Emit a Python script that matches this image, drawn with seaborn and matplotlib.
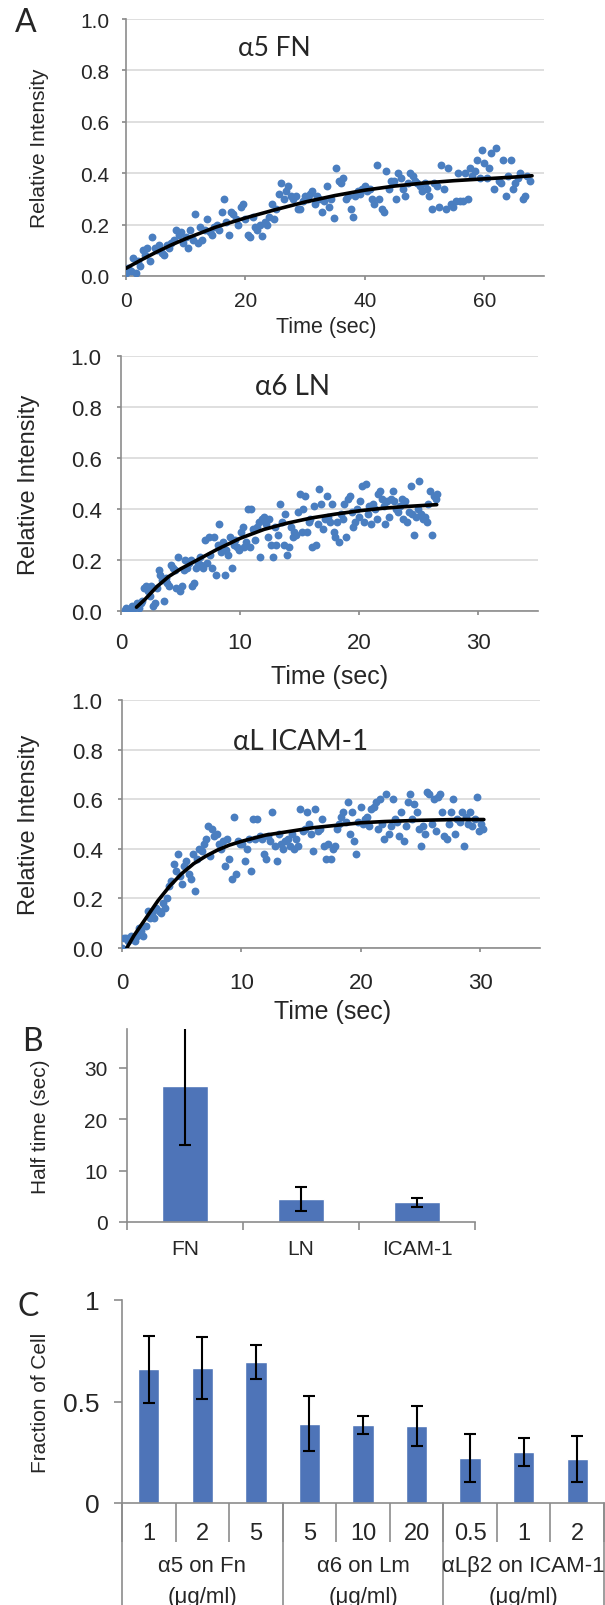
import numpy as np
import pandas as pd
import seaborn as sns
import matplotlib
matplotlib.use("Agg")
import matplotlib.pyplot as plt
from matplotlib.ticker import FixedLocator

# ---------------- data ----------------
# Panel A1: alpha5 on FN
fn_time = [0.0, 0.4, 0.8, 1.2, 1.6, 2.0, 2.4, 2.8, 3.2, 3.6,
           4.0, 4.4, 4.8, 5.2, 5.6, 6.0, 6.4, 6.8, 7.2, 7.6,
           8.0, 8.4, 8.8, 9.2, 9.6, 10.0, 10.4, 10.8, 11.2, 11.6,
           12.0, 12.4, 12.8, 13.2, 13.6, 14.0, 14.4, 14.8, 15.2, 15.6,
           16.0, 16.4, 16.8, 17.2, 17.6, 18.0, 18.4, 18.8, 19.2, 19.6,
           20.0, 20.4, 20.8, 21.2, 21.6, 22.0, 22.4, 22.8, 23.2, 23.6,
           24.0, 24.4, 24.8, 25.2, 25.6, 26.0, 26.4, 26.8, 27.2, 27.6,
           28.0, 28.4, 28.8, 29.2, 29.6, 30.0, 30.4, 30.8, 31.2, 31.6,
           32.0, 32.4, 32.8, 33.2, 33.6, 34.0, 34.4, 34.8, 35.2, 35.6,
           36.0, 36.4, 36.8, 37.2, 37.6, 38.0, 38.4, 38.8, 39.2, 39.6,
           40.0, 40.4, 40.8, 41.2, 41.6, 42.0, 42.4, 42.8, 43.2, 43.6,
           44.0, 44.4, 44.8, 45.2, 45.6, 46.0, 46.4, 46.8, 47.2, 47.6,
           48.0, 48.4, 48.8, 49.2, 49.6, 50.0, 50.4, 50.8, 51.2, 51.6,
           52.0, 52.4, 52.8, 53.2, 53.6, 54.0, 54.4, 54.8, 55.2, 55.6,
           56.0, 56.4, 56.8, 57.2, 57.6, 58.0, 58.4, 58.8, 59.2, 59.6,
           60.0, 60.4, 60.8, 61.2, 61.6, 62.0, 62.4, 62.8, 63.2, 63.6,
           64.0, 64.4, 64.8, 65.2, 65.6, 66.0, 66.4, 66.8, 67.2, 67.6]
fn_int = [0.01, 0.03, 0.02, 0.07, 0.01, 0.06, 0.04, 0.10, 0.08, 0.11,
          0.06, 0.15, 0.11, 0.10, 0.12, 0.09, 0.08, 0.12, 0.11, 0.13,
          0.14, 0.18, 0.16, 0.17, 0.13, 0.15, 0.11, 0.18, 0.14, 0.24,
          0.13, 0.19, 0.14, 0.18, 0.22, 0.17, 0.16, 0.19, 0.20, 0.18,
          0.25, 0.30, 0.21, 0.16, 0.25, 0.24, 0.22, 0.20, 0.27, 0.28,
          0.22, 0.16, 0.15, 0.23, 0.19, 0.18, 0.20, 0.155, 0.21, 0.20,
          0.23, 0.28, 0.22, 0.26, 0.32, 0.36, 0.30, 0.33, 0.35, 0.31,
          0.30, 0.31, 0.26, 0.26, 0.29, 0.31, 0.30, 0.32, 0.33, 0.28,
          0.31, 0.30, 0.25, 0.29, 0.35, 0.27, 0.30, 0.225, 0.42, 0.37,
          0.36, 0.38, 0.30, 0.31, 0.26, 0.23, 0.31, 0.33, 0.32, 0.34,
          0.35, 0.33, 0.34, 0.30, 0.28, 0.43, 0.30, 0.26, 0.25, 0.41,
          0.34, 0.37, 0.37, 0.30, 0.40, 0.38, 0.34, 0.31, 0.36, 0.40,
          0.39, 0.37, 0.36, 0.35, 0.33, 0.36, 0.34, 0.31, 0.26, 0.36,
          0.35, 0.27, 0.43, 0.34, 0.26, 0.42, 0.28, 0.27, 0.29, 0.40,
          0.29, 0.29, 0.40, 0.30, 0.42, 0.39, 0.41, 0.45, 0.38, 0.49,
          0.44, 0.38, 0.42, 0.48, 0.34, 0.50, 0.37, 0.36, 0.45, 0.31,
          0.39, 0.45, 0.34, 0.36, 0.38, 0.40, 0.30, 0.31, 0.39, 0.37]
fn_fit_t = [0, 2.5, 5, 7.5, 10, 15, 20, 25, 30, 35, 40, 45, 50, 55, 60, 65, 68]
fn_fit_v = [0.03, 0.062, 0.092, 0.12, 0.145, 0.19, 0.226, 0.258, 0.288, 0.313,
            0.334, 0.35, 0.362, 0.371, 0.378, 0.385, 0.39]

# Panel A2: alpha6 on LN
ln_time = [0.3, 0.45, 0.6, 0.75, 0.9, 1.05, 1.2, 1.35, 1.5, 1.65,
           1.8, 1.95, 2.1, 2.25, 2.4, 2.55, 2.7, 2.85, 3.0, 3.15,
           3.3, 3.45, 3.6, 3.75, 3.9, 4.05, 4.2, 4.35, 4.5, 4.65,
           4.8, 4.95, 5.1, 5.25, 5.4, 5.55, 5.7, 5.85, 6.0, 6.15,
           6.3, 6.45, 6.6, 6.75, 6.9, 7.05, 7.2, 7.35, 7.5, 7.65,
           7.8, 7.95, 8.1, 8.25, 8.4, 8.55, 8.7, 8.85, 9.0, 9.15,
           9.3, 9.45, 9.6, 9.75, 9.9, 10.05, 10.2, 10.35, 10.5, 10.65,
           10.8, 10.95, 11.1, 11.25, 11.4, 11.55, 11.7, 11.85, 12.0, 12.15,
           12.3, 12.45, 12.6, 12.75, 12.9, 13.05, 13.2, 13.35, 13.5, 13.65,
           13.8, 13.95, 14.1, 14.25, 14.4, 14.55, 14.7, 14.85, 15.0, 15.15,
           15.3, 15.45, 15.6, 15.75, 15.9, 16.05, 16.2, 16.35, 16.5, 16.65,
           16.8, 16.95, 17.1, 17.25, 17.4, 17.55, 17.7, 17.85, 18.0, 18.15,
           18.3, 18.45, 18.6, 18.75, 18.9, 19.05, 19.2, 19.35, 19.5, 19.65,
           19.8, 19.95, 20.1, 20.25, 20.4, 20.55, 20.7, 20.85, 21.0, 21.15,
           21.3, 21.45, 21.6, 21.75, 21.9, 22.05, 22.2, 22.35, 22.5, 22.65,
           22.8, 22.95, 23.1, 23.25, 23.4, 23.55, 23.7, 23.85, 24.0, 24.15,
           24.3, 24.45, 24.6, 24.75, 24.9, 25.05, 25.2, 25.35, 25.5, 25.65,
           25.8, 25.95, 26.1, 26.25, 26.4, 26.5]
ln_int = [0.005, 0.01, 0.0, 0.005, 0.02, 0.01, 0.015, 0.03, 0.01, 0.03,
          0.04, 0.09, 0.10, 0.08, 0.06, 0.10, 0.02, 0.03, 0.09, 0.16,
          0.14, 0.12, 0.04, 0.13, 0.11, 0.10, 0.18, 0.17, 0.16, 0.09,
          0.21, 0.08, 0.10, 0.16, 0.20, 0.17, 0.19, 0.20, 0.10, 0.11,
          0.17, 0.19, 0.21, 0.18, 0.17, 0.28, 0.19, 0.29, 0.22, 0.17,
          0.29, 0.14, 0.26, 0.34, 0.23, 0.27, 0.14, 0.24, 0.22, 0.29,
          0.17, 0.26, 0.28, 0.25, 0.24, 0.31, 0.33, 0.25, 0.27, 0.40,
          0.25, 0.40, 0.32, 0.28, 0.33, 0.35, 0.21, 0.36, 0.37, 0.34,
          0.29, 0.36, 0.26, 0.21, 0.33, 0.26, 0.30, 0.42, 0.35, 0.26,
          0.38, 0.22, 0.25, 0.33, 0.29, 0.31, 0.30, 0.39, 0.46, 0.31,
          0.40, 0.45, 0.31, 0.35, 0.36, 0.25, 0.41, 0.26, 0.34, 0.48,
          0.42, 0.32, 0.36, 0.45, 0.37, 0.35, 0.42, 0.31, 0.29, 0.35,
          0.27, 0.38, 0.36, 0.42, 0.29, 0.44, 0.45, 0.39, 0.33, 0.35,
          0.40, 0.37, 0.43, 0.49, 0.35, 0.50, 0.38, 0.41, 0.34, 0.42,
          0.40, 0.36, 0.46, 0.47, 0.44, 0.41, 0.34, 0.43, 0.37, 0.44,
          0.47, 0.43, 0.40, 0.39, 0.41, 0.44, 0.36, 0.43, 0.35, 0.39,
          0.49, 0.38, 0.30, 0.37, 0.40, 0.51, 0.38, 0.36, 0.37, 0.35,
          0.42, 0.47, 0.30, 0.45, 0.44, 0.46]
ln_fit_t = [1.3, 2.0, 2.5, 3.0, 4.0, 5.0, 6.0, 8.0, 10.0, 12.0, 14.0, 16.0,
            18.0, 20.0, 22.0, 24.0, 26.5]
ln_fit_v = [0.015, 0.045, 0.07, 0.095, 0.135, 0.165, 0.19, 0.24, 0.285, 0.32,
            0.345, 0.365, 0.38, 0.393, 0.403, 0.41, 0.417]

# Panel A3: alphaL on ICAM-1
icam_time = [0.0, 0.18, 0.36, 0.54, 0.72, 0.9, 1.08, 1.26, 1.44, 1.62,
             1.8, 1.98, 2.16, 2.34, 2.52, 2.7, 2.88, 3.06, 3.24, 3.42,
             3.6, 3.78, 3.96, 4.14, 4.32, 4.5, 4.68, 4.86, 5.04, 5.22,
             5.4, 5.58, 5.76, 5.94, 6.12, 6.3, 6.48, 6.66, 6.84, 7.02,
             7.2, 7.38, 7.56, 7.74, 7.92, 8.1, 8.28, 8.46, 8.64, 8.82,
             9.0, 9.18, 9.36, 9.54, 9.72, 9.9, 10.08, 10.26, 10.44, 10.62,
             10.8, 10.98, 11.16, 11.34, 11.52, 11.7, 11.88, 12.06, 12.24, 12.42,
             12.6, 12.78, 12.96, 13.14, 13.32, 13.5, 13.68, 13.86, 14.04, 14.22,
             14.4, 14.58, 14.76, 14.94, 15.12, 15.3, 15.48, 15.66, 15.84, 16.02,
             16.2, 16.38, 16.56, 16.74, 16.92, 17.1, 17.28, 17.46, 17.64, 17.82,
             18.0, 18.18, 18.36, 18.54, 18.72, 18.9, 19.08, 19.26, 19.44, 19.62,
             19.8, 19.98, 20.16, 20.34, 20.52, 20.7, 20.88, 21.06, 21.24, 21.42,
             21.6, 21.78, 21.96, 22.14, 22.32, 22.5, 22.68, 22.86, 23.04, 23.22,
             23.4, 23.58, 23.76, 23.94, 24.12, 24.3, 24.48, 24.66, 24.84, 25.02,
             25.2, 25.38, 25.56, 25.74, 25.92, 26.1, 26.28, 26.46, 26.64, 26.82,
             27.0, 27.18, 27.36, 27.54, 27.72, 27.9, 28.08, 28.26, 28.44, 28.62,
             28.8, 28.98, 29.16, 29.34, 29.52, 29.7, 29.88, 30.06, 30.24]
icam_int = [0.0, 0.04, 0.04, 0.03, 0.05, 0.04, 0.03, 0.05, 0.08, 0.07,
            0.05, 0.09, 0.15, 0.12, 0.14, 0.12, 0.16, 0.15, 0.14, 0.18,
            0.16, 0.20, 0.25, 0.27, 0.34, 0.31, 0.38, 0.29, 0.26, 0.33,
            0.35, 0.30, 0.28, 0.38, 0.23, 0.36, 0.40, 0.39, 0.42, 0.44,
            0.49, 0.37, 0.48, 0.45, 0.46, 0.42, 0.40, 0.43, 0.33, 0.44,
            0.36, 0.28, 0.53, 0.30, 0.43, 0.42, 0.42, 0.35, 0.40, 0.44,
            0.31, 0.52, 0.44, 0.52, 0.45, 0.44, 0.38, 0.36, 0.45, 0.43,
            0.55, 0.41, 0.35, 0.46, 0.42, 0.40, 0.43, 0.44, 0.41, 0.46,
            0.40, 0.44, 0.41, 0.56, 0.47, 0.48, 0.55, 0.50, 0.46, 0.39,
            0.56, 0.47, 0.48, 0.52, 0.41, 0.36, 0.42, 0.36, 0.40, 0.41,
            0.48, 0.50, 0.53, 0.55, 0.51, 0.59, 0.46, 0.55, 0.43, 0.38,
            0.51, 0.57, 0.50, 0.52, 0.53, 0.49, 0.56, 0.57, 0.59, 0.48,
            0.60, 0.50, 0.44, 0.62, 0.46, 0.49, 0.60, 0.52, 0.51, 0.45,
            0.55, 0.43, 0.49, 0.59, 0.62, 0.52, 0.58, 0.55, 0.48, 0.41,
            0.49, 0.46, 0.63, 0.62, 0.50, 0.60, 0.47, 0.61, 0.62, 0.55,
            0.45, 0.44, 0.50, 0.55, 0.60, 0.46, 0.52, 0.51, 0.55, 0.41,
            0.53, 0.50, 0.55, 0.49, 0.52, 0.61, 0.47, 0.50, 0.48]
icam_fit_t = [0.4, 1.0, 2.0, 3.0, 4.0, 5.0, 6.0, 7.0, 8.0, 9.0, 10.0, 12.0,
              14.0, 16.0, 18.0, 20.0, 22.0, 25.0, 28.0, 30.3]
icam_fit_v = [0.0, 0.05, 0.12, 0.19, 0.25, 0.30, 0.34, 0.37, 0.395, 0.415,
              0.43, 0.455, 0.47, 0.485, 0.495, 0.505, 0.51, 0.515, 0.518, 0.518]

# Panel B: half time
half_cats = ["FN", "LN", "ICAM-1"]
half_vals = [26.5, 4.5, 3.8]
half_errs = [11.5, 2.3, 0.9]

# Panel C: fraction of cells
c_groups = ["α5 on Fn", "α5 on Fn", "α5 on Fn",
            "α6 on Lm", "α6 on Lm", "α6 on Lm",
            "αLβ2 on ICAM-1", "αLβ2 on ICAM-1", "αLβ2 on ICAM-1"]
c_doses = ["1", "2", "5", "5", "10", "20", "0.5", "1", "2"]
c_vals = [0.66, 0.665, 0.695, 0.39, 0.385, 0.38, 0.223, 0.25, 0.217]
c_errs = [0.165, 0.155, 0.085, 0.135, 0.043, 0.10, 0.118, 0.07, 0.112]
group_names = ["α5 on Fn", "α6 on Lm", "αLβ2 on ICAM-1"]
group_unit = "(μg/ml)"

# ---------------- style ----------------
sns.set_theme(style="white")
plt.rcParams['font.family'] = ['Liberation Sans', 'DejaVu Sans']
TITLE_FONT = ['Lato', 'Open Sans', 'DejaVu Sans']
DOT = "#4a7ec0"
BAR = "#4e74b8"
SPINE = "#8c8c8c"
GRID = "#d9d9d9"

W, H = 605, 1606
fig = plt.figure(figsize=(W / 100, H / 100), dpi=100)


def rect(l, r, t, b):
    return [l / W, 1 - b / H, (r - l) / W, (b - t) / H]


def style_axes(ax):
    sns.despine(ax=ax)
    for s in ("left", "bottom"):
        ax.spines[s].set_color(SPINE)
        ax.spines[s].set_linewidth(1.2)


def recovery_panel(box, t, v, fit_t, fit_v, xmax, xticks, title, title_pos,
                   tick_fs, ylab_fs, xlab_fs, title_fs, ylab_x, xlab_pos, pad):
    ax = fig.add_axes(rect(*box))
    df = pd.DataFrame({"t": t, "v": v})
    sns.scatterplot(data=df, x="t", y="v", ax=ax, color=DOT, s=32,
                    linewidth=0, zorder=3)
    fit = pd.DataFrame({"t": fit_t, "v": fit_v})
    sns.lineplot(data=fit, x="t", y="v", ax=ax, color="black", linewidth=2.6,
                 zorder=4, sort=False)
    ax.set_xlim(0, xmax)
    ax.set_ylim(0, 1.0)
    ax.set_xticks(xticks)
    ax.set_yticks([0, 0.2, 0.4, 0.6, 0.8, 1.0])
    ax.set_yticklabels(["0.0", "0.2", "0.4", "0.6", "0.8", "1.0"])
    ax.grid(axis="y", color=GRID, linewidth=1.2)
    ax.set_axisbelow(True)
    style_axes(ax)
    ax.tick_params(axis="x", labelsize=tick_fs, length=3, color=SPINE,
                   pad=pad[0], direction="out", bottom=True)
    ax.tick_params(axis="y", labelsize=tick_fs, length=3, color=SPINE,
                   pad=pad[1], direction="out", left=True)
    ax.set_ylabel("Relative Intensity", fontsize=ylab_fs)
    ax.yaxis.set_label_coords(ylab_x, 0.5)
    ax.set_xlabel("Time (sec)", fontsize=xlab_fs)
    ax.xaxis.set_label_coords(*xlab_pos)
    ax.xaxis.label.set_verticalalignment("center")
    ax.text(title_pos[0], title_pos[1], title, transform=ax.transAxes,
            ha="center", va="center", fontsize=title_fs, family=TITLE_FONT)
    return ax


recovery_panel((126, 544, 20, 277), fn_time, fn_int, fn_fit_t, fn_fit_v, 70,
               [0, 20, 40, 60], "α5 FN", (0.354, 0.891), 15, 15, 15.5, 19,
               -0.185, (0.478, -0.195), (8, 9))
recovery_panel((121, 538, 357, 612), ln_time, ln_int, ln_fit_t, ln_fit_v, 35,
               [0, 10, 20, 30], "α6 LN", (0.412, 0.882), 16, 17, 18, 20,
               -0.195, (0.5, -0.255), (12, 11))
recovery_panel((122, 540, 701, 949), icam_time, icam_int, icam_fit_t,
               icam_fit_v, 35, [0, 10, 20, 30], "αL ICAM-1", (0.428, 0.835),
               16, 17, 18, 20, -0.196, (0.503, -0.254), (14, 11))

# ---------------- panel B ----------------
axb = fig.add_axes(rect(127, 475, 1030, 1223))
dfb = pd.DataFrame({"cat": half_cats, "val": half_vals})
sns.barplot(data=dfb, x="cat", y="val", ax=axb, color=BAR, width=0.4,
            saturation=1, errorbar=None)
axb.errorbar(np.arange(len(half_vals)), half_vals, yerr=half_errs, fmt="none",
             ecolor="black", elinewidth=1.5, capsize=4, capthick=1.5,
             zorder=5)
axb.set_xlim(-0.5, len(half_cats) - 0.5)
axb.set_ylim(0, 37.5)
axb.set_yticks([0, 10, 20, 30])
style_axes(axb)
axb.xaxis.set_minor_locator(FixedLocator(np.arange(len(half_cats) + 1) - 0.5))
axb.tick_params(axis="x", which="major", length=0, labelsize=15, pad=12)
axb.tick_params(axis="x", which="minor", length=6, color=SPINE, width=1.2,
                bottom=True, direction="out")
axb.tick_params(axis="y", labelsize=15, length=6, color=SPINE, width=1.2,
                left=True, pad=8)
axb.set_xlabel("")
axb.set_ylabel("Half time (sec)", fontsize=15)
axb.yaxis.set_label_coords(-0.221, 0.5)

# ---------------- panel C ----------------
axc = fig.add_axes(rect(122, 604, 1301, 1504))
dfc = pd.DataFrame({"key": [f"{g} {d} {i}" for i, (g, d) in
                            enumerate(zip(c_groups, c_doses))],
                    "val": c_vals})
sns.barplot(data=dfc, x="key", y="val", ax=axc, color=BAR, width=0.4,
            saturation=1, errorbar=None)
axc.errorbar(np.arange(len(c_vals)), c_vals, yerr=c_errs, fmt="none",
             ecolor="black", elinewidth=1.5, capsize=4, capthick=1.5,
             zorder=5)
n = len(c_vals)
axc.set_xlim(-0.5, n - 0.5)
axc.set_ylim(0, 1)
axc.set_yticks([0, 0.5, 1])
axc.set_yticklabels(["0", "0.5", "1"])
axc.set_xticks(np.arange(n))
axc.set_xticklabels(c_doses)
style_axes(axc)
axc.spines["right"].set_visible(False)
axc.xaxis.set_minor_locator(FixedLocator(np.arange(n + 1) - 0.5))
axc.tick_params(axis="x", which="major", length=0, labelsize=17, pad=14)
axc.tick_params(axis="x", which="minor", length=28, color=SPINE, width=1.2,
                bottom=True, direction="out")
axc.tick_params(axis="y", labelsize=19, length=6, color=SPINE, width=1.2,
                left=True, pad=10)
axc.set_xlabel("")
axc.set_ylabel("Fraction of Cell", fontsize=15)
axc.yaxis.set_label_coords(-0.149, 0.5)

# group separators and group labels
for b in [-0.5, 2.5, 5.5, 8.5]:
    axc.axvline(b, ymin=-0.51, ymax=0, color=SPINE, linewidth=1.2,
                clip_on=False)
trans = axc.get_xaxis_transform()
for gi, name in enumerate(group_names):
    centre = gi * 3 + 1
    axc.text(centre, -0.31, name, transform=trans, ha="center", va="center",
             fontsize=16)
    axc.text(centre, -0.463, group_unit, transform=trans, ha="center",
             va="center", fontsize=16)

# panel letters
for letter, (px, py) in {"A": (26, 23), "B": (32, 1042), "C": (28, 1307)}.items():
    fig.text(px / W, 1 - py / H, letter, ha="center", va="center",
             fontsize=23, family=TITLE_FONT)

fig.savefig("out.png", dpi=100)
